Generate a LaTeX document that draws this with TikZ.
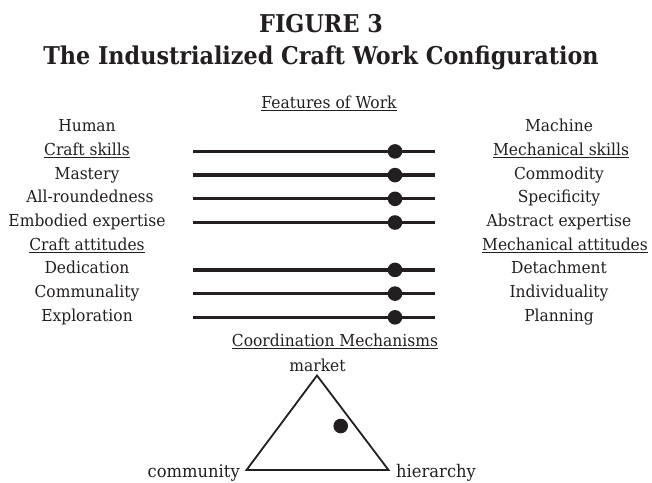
\documentclass[tikz,border=0pt]{standalone}
\usepackage{fontspec}
\setmainfont{DejaVu Serif}[FakeStretch=0.94]
\newfontfamily\headfont[FakeStretch=0.91]{DejaVu Serif}
\usepackage{tikz}

\definecolor{ink}{HTML}{231F20}

\begin{document}
\begin{tikzpicture}[x=1pt,y=-1pt,
	lab/.style={inner sep=0pt, anchor=base, text=ink, font=\fontsize{16.5}{20}\selectfont},
	bar/.style={line width=3.3pt, draw=ink},
	knob/.style={circle, fill=ink, inner sep=0pt, minimum size=14.6pt},
	tri/.style={line width=1.8pt, draw=ink, line join=miter}]
\useasboundingbox (0,0) rectangle (652,482);

% heading
\node [inner sep=0pt, anchor=base, text=ink, font=\headfont\bfseries\fontsize{24.5}{28}\selectfont] (fig) at (321,32.7) {FIGURE 3};
\node [inner sep=0pt, anchor=base, text=ink, font=\headfont\bfseries\fontsize{24.5}{28}\selectfont] (title) at (321,64) {The Industrialized Craft Work Configuration};

\node [lab] (feat) at (329,108.3) {\underline{Features of Work}};

% left poles
\node [lab] (human) at (87,131.7) {Human};
\node [lab] (cskill) at (87,155.4) {\underline{Craft skills}};
\node [lab] (mastery) at (87,179.1) {Mastery};
\node [lab] (allround) at (90,202.8) {All-roundedness};
\node [lab] (embod) at (87,226.5) {Embodied expertise};
\node [lab] (catt) at (87,250.2) {\underline{Craft attitudes}};
\node [lab] (dedic) at (87,273.9) {Dedication};
\node [lab] (commun) at (87,297.6) {Communality};
\node [lab] (explor) at (87,321.3) {Exploration};

% right poles
\node [lab] (machine) at (559,131.7) {Machine};
\node [lab] (mskill) at (561,155.4) {\underline{Mechanical skills}};
\node [lab] (commod) at (559,179.1) {Commodity};
\node [lab] (specif) at (559,202.8) {Specificity};
\node [lab] (abstr) at (559,226.5) {Abstract expertise};
\node [lab] (matt) at (565,250.2) {\underline{Mechanical attitudes}};
\node [lab] (detach) at (559,273.9) {Detachment};
\node [lab] (indiv) at (559,297.6) {Individuality};
\node [lab] (plan) at (559,321.3) {Planning};

% sliders
\coordinate (a1) at (193,151.4); \coordinate (b1) at (435,151.4);
\coordinate (a2) at (193,175.1); \coordinate (b2) at (435,175.1);
\coordinate (a3) at (193,198.8); \coordinate (b3) at (435,198.8);
\coordinate (a4) at (193,222.5); \coordinate (b4) at (435,222.5);
\coordinate (a5) at (193,269.9); \coordinate (b5) at (435,269.9);
\coordinate (a6) at (193,293.6); \coordinate (b6) at (435,293.6);
\coordinate (a7) at (193,317.3); \coordinate (b7) at (435,317.3);
\draw [bar] (a1) -- (b1);
\draw [bar] (a2) -- (b2);
\draw [bar] (a3) -- (b3);
\draw [bar] (a4) -- (b4);
\draw [bar] (a5) -- (b5);
\draw [bar] (a6) -- (b6);
\draw [bar] (a7) -- (b7);
\node [knob] (k1) at (395,151.4) {};
\node [knob] (k2) at (395,175.1) {};
\node [knob] (k3) at (395,198.8) {};
\node [knob] (k4) at (395,222.5) {};
\node [knob] (k5) at (395,269.9) {};
\node [knob] (k6) at (395,293.6) {};
\node [knob] (k7) at (395,317.3) {};

% coordination triangle
\node [lab] (coord) at (335,346.5) {\underline{Coordination Mechanisms}};
\coordinate (top) at (317,375.5);
\coordinate (left) at (246.5,470);
\coordinate (right) at (388.5,470);
\draw [tri] (top) -- (left) -- (right) -- cycle;
\node [lab] (market) at (317.5,371.5) {market};
\node [lab, anchor=base east, font=\fontsize{17.4}{20}\selectfont] (community) at (240,477.3) {community};
\node [lab, anchor=base west, font=\fontsize{17.4}{20}\selectfont] (hierarchy) at (396,477.3) {hierarchy};
\node [knob] (k8) at (340.7,426) {};
\end{tikzpicture}
\end{document}
